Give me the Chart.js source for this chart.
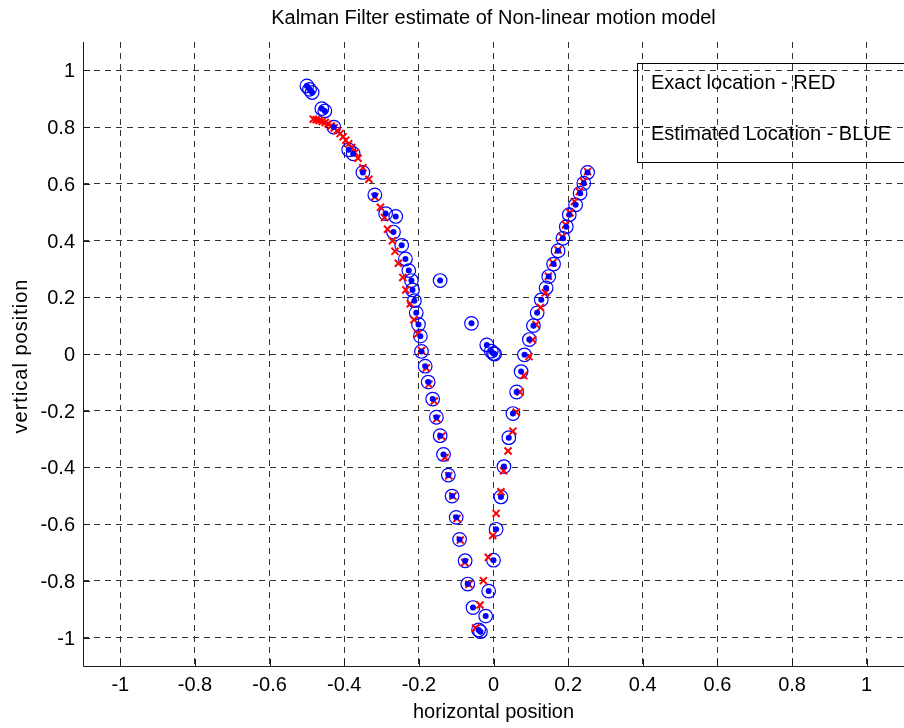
<!DOCTYPE html>
<html>
<head>
<meta charset="utf-8">
<script src="https://cdn.jsdelivr.net/npm/chart.js@4.4.0/dist/chart.umd.min.js"></script>
<style>
  html, body { margin: 0; padding: 0; background: #ffffff; overflow: hidden; }
  canvas { display: block; }
</style>
</head>
<body>
<canvas id="kf" width="904" height="728"></canvas>
<script>
// True (exact) positions along the trajectory
const exactX = [
  -0.483, -0.475, -0.467, -0.459, -0.451, -0.443, -0.435, -0.427, -0.419, -0.411,
  -0.403, -0.396, -0.388, -0.380, -0.371, -0.363, -0.350, -0.334, -0.318, -0.303,
  -0.292, -0.284, -0.271, -0.264, -0.255, -0.243, -0.235, -0.223, -0.213, -0.203,
  -0.193, -0.180, -0.173, -0.159, -0.152, -0.139, -0.130, -0.120, -0.109, -0.098,
  -0.089, -0.077, -0.066, -0.048, -0.036, -0.027, -0.014, -0.002, 0.007, 0.020,
  0.027, 0.039, 0.052, 0.061, 0.071, 0.081, 0.095, 0.105, 0.114, 0.126,
  0.139, 0.147, 0.159, 0.173, 0.184, 0.193, 0.205, 0.217, 0.230, 0.241, 0.252
];
const exactY = [
  0.828, 0.826, 0.823, 0.820, 0.816, 0.811, 0.804, 0.797, 0.787, 0.777,
  0.766, 0.754, 0.741, 0.728, 0.710, 0.690, 0.657, 0.616, 0.554, 0.517,
  0.481, 0.440, 0.399, 0.362, 0.320, 0.270, 0.226, 0.177, 0.121, 0.071,
  0.012, -0.049, -0.107, -0.166, -0.228, -0.290, -0.365, -0.429, -0.501, -0.580,
  -0.656, -0.735, -0.812, -0.966, -0.885, -0.799, -0.717, -0.640, -0.562, -0.486,
  -0.412, -0.342, -0.272, -0.205, -0.134, -0.076, -0.009, 0.050, 0.104, 0.164,
  0.216, 0.274, 0.322, 0.367, 0.413, 0.456, 0.498, 0.538, 0.573, 0.608, 0.643
];

// Filter estimates
const estX = [
  0.003, 0.000, -0.006, -0.018, -0.059, -0.143,
  -0.500, -0.493, -0.486, -0.460, -0.452, -0.428, -0.388, -0.376, -0.350, -0.318,
  -0.289, -0.262, -0.268, -0.246, -0.236, -0.227, -0.220, -0.217, -0.212, -0.207,
  -0.201, -0.196, -0.193, -0.183, -0.175, -0.163, -0.153, -0.143, -0.134, -0.121,
  -0.111, -0.100, -0.091, -0.076, -0.069, -0.055, -0.040, -0.035, -0.021, -0.013,
  0.000, 0.007, 0.020, 0.028, 0.041, 0.052, 0.062, 0.074, 0.083, 0.096,
  0.107, 0.117, 0.128, 0.141, 0.148, 0.161, 0.173, 0.186, 0.195, 0.203,
  0.220, 0.232, 0.242, 0.252
];
const estY = [
  0.000, 0.002, 0.010, 0.032, 0.108, 0.259,
  0.945, 0.933, 0.922, 0.865, 0.857, 0.800, 0.720, 0.706, 0.640, 0.561,
  0.495, 0.485, 0.430, 0.383, 0.335, 0.294, 0.259, 0.226, 0.188, 0.145,
  0.104, 0.063, 0.009, -0.043, -0.099, -0.159, -0.223, -0.288, -0.354, -0.427,
  -0.501, -0.576, -0.654, -0.729, -0.811, -0.894, -0.973, -0.979, -0.924, -0.836,
  -0.727, -0.618, -0.504, -0.397, -0.295, -0.210, -0.134, -0.062, -0.003, 0.051,
  0.100, 0.145, 0.191, 0.233, 0.273, 0.317, 0.364, 0.408, 0.449, 0.491,
  0.526, 0.567, 0.602, 0.640
];

const tickValues = [-1, -0.8, -0.6, -0.4, -0.2, 0, 0.2, 0.4, 0.6, 0.8, 1];
const tickLabels = ['-1', '-0.8', '-0.6', '-0.4', '-0.2', '0', '0.2', '0.4', '0.6', '0.8', '1'];

const titleText = 'Kalman Filter estimate of Non-linear motion model';
const xAxisTitle = 'horizontal position';
const yAxisTitle = 'vertical position';
const legendLines = ['Exact location - RED', 'Estimated Location - BLUE'];

const toPoints = (xs, ys) => xs.map((x, i) => ({ x: x, y: ys[i] }));
const FONT = '20px "Liberation Sans", Arial, sans-serif';
const AXIS_COLOR = '#1a1a1a';

// Axes decorations drawn in MATLAB style: inward ticks, labels, titles, text legend
const matlabFrame = {
  id: 'matlabFrame',
  afterDraw(chart) {
    const ctx = chart.ctx;
    const area = chart.chartArea;
    const xs = chart.scales.x;
    const ys = chart.scales.y;
    ctx.save();

    // axis lines (left and bottom)
    ctx.strokeStyle = AXIS_COLOR;
    ctx.lineWidth = 1;
    ctx.setLineDash([]);
    ctx.beginPath();
    ctx.moveTo(area.left + 0.5, area.top);
    ctx.lineTo(area.left + 0.5, area.bottom + 0.5);
    ctx.lineTo(area.right, area.bottom + 0.5);
    ctx.stroke();

    // inward tick marks
    ctx.beginPath();
    tickValues.forEach(v => {
      const px = Math.round(xs.getPixelForValue(v)) + 0.5;
      ctx.moveTo(px, area.bottom);
      ctx.lineTo(px, area.bottom - 7);
      const py = Math.round(ys.getPixelForValue(v)) + 0.5;
      ctx.moveTo(area.left, py);
      ctx.lineTo(area.left + 7, py);
    });
    ctx.stroke();

    // tick labels
    ctx.fillStyle = '#000000';
    ctx.font = FONT;
    ctx.textBaseline = 'alphabetic';
    ctx.textAlign = 'center';
    tickValues.forEach((v, i) => {
      ctx.fillText(tickLabels[i], xs.getPixelForValue(v), area.bottom + 25);
    });
    ctx.textAlign = 'right';
    tickValues.forEach((v, i) => {
      ctx.fillText(tickLabels[i], area.left - 8, ys.getPixelForValue(v) + 7);
    });

    // title and axis titles
    ctx.textAlign = 'center';
    ctx.fillText(titleText, xs.getPixelForValue(0), 24);
    ctx.fillText(xAxisTitle, xs.getPixelForValue(0), 718);
    ctx.save();
    ctx.translate(27, 356);
    ctx.rotate(-Math.PI / 2);
    if ('letterSpacing' in ctx) ctx.letterSpacing = '1px';
    ctx.fillText(yAxisTitle, 0, 0);
    ctx.restore();

    // legend box with text entries
    ctx.strokeStyle = '#000000';
    ctx.lineWidth = 1;
    ctx.strokeRect(637.5, 63.5, 300, 99);
    ctx.textAlign = 'left';
    ctx.fillText(legendLines[0], 651, 89);
    ctx.fillText(legendLines[1], 651, 140);

    ctx.restore();
  }
};

const gridOpts = {
  display: true,
  drawTicks: false,
  color: '#333333',
  lineWidth: 1
};

new Chart(document.getElementById('kf'), {
  type: 'scatter',
  data: {
    datasets: [
      {
        label: 'estimate centre',
        data: toPoints(estX, estY),
        pointStyle: 'circle',
        pointRadius: 3,
        pointBorderWidth: 0,
        pointBackgroundColor: '#0000ff',
        order: 0
      },
      {
        label: 'exact',
        data: toPoints(exactX, exactY),
        pointStyle: 'crossRot',
        pointRadius: 5,
        pointBorderWidth: 2,
        pointBorderColor: '#ff0000',
        pointBackgroundColor: '#ff0000',
        order: 1
      },
      {
        label: 'estimate',
        data: toPoints(estX, estY),
        pointStyle: 'circle',
        pointRadius: 6.8,
        pointBorderWidth: 1.2,
        pointBorderColor: '#0000ff',
        pointBackgroundColor: 'rgba(0,0,0,0)',
        order: 2
      }
    ]
  },
  options: {
    responsive: false,
    devicePixelRatio: 1,
    animation: false,
    events: [],
    layout: { autoPadding: false, padding: { top: 42, left: 0, right: 0, bottom: 0 } },
    plugins: {
      legend: { display: false },
      tooltip: { enabled: false },
      title: { display: false }
    },
    scales: {
      x: {
        type: 'linear',
        min: -1.1,
        max: 1.1,
        afterBuildTicks: s => { s.ticks = tickValues.map(v => ({ value: v })); },
        afterFit: s => { s.height = 62; },
        ticks: { display: false },
        grid: gridOpts,
        border: { display: false, dash: [6, 5] }
      },
      y: {
        type: 'linear',
        min: -1.1,
        max: 1.1,
        afterBuildTicks: s => { s.ticks = tickValues.map(v => ({ value: v })); },
        afterFit: s => { s.width = 83; },
        ticks: { display: false },
        grid: gridOpts,
        border: { display: false, dash: [6, 5] }
      }
    }
  },
  plugins: [matlabFrame]
});
</script>
</body>
</html>
